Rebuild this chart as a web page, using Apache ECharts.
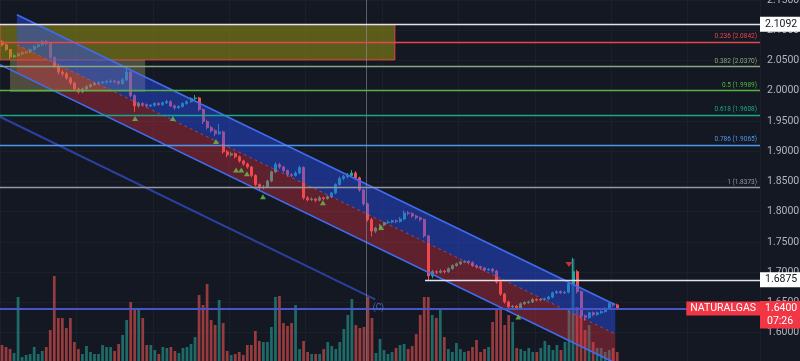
<!DOCTYPE html>
<html><head><meta charset="utf-8">
<script src="https://cdn.jsdelivr.net/npm/echarts@6/dist/echarts.min.js"></script>
<style>html,body{margin:0;padding:0;background:#141823;}#c{width:800px;height:361px;}</style>
</head><body><div id="c"></div>
<script>
// ---- data ----
const SLOT_COUNT = 189;
const slots = Array.from({length: SLOT_COUNT}, (_, i) => String(i));
const opens = [
2.081,2.076,2.068,2.056,2.058,2.061,2.063,2.064,2.068,2.073,
2.076,2.081,2.078,2.055,2.041,2.031,2.028,2.021,2.013,2.003,
1.998,2.003,2.007,2.010,2.012,2.013,2.014,2.015,2.016,2.015,
2.012,2.018,2.031,1.992,1.975,1.979,1.977,1.975,1.976,1.979,
1.977,1.980,1.982,1.975,1.972,1.974,1.979,1.982,1.987,1.988,
1.969,1.949,1.939,1.934,1.929,1.932,1.899,1.894,1.896,1.891,
1.884,1.879,1.874,1.860,1.845,1.840,1.841,1.851,1.866,1.878,
1.874,1.868,1.861,1.860,1.864,1.873,1.823,1.820,1.821,1.819,
1.823,1.822,1.825,1.831,1.845,1.855,1.858,1.860,1.864,1.856,
1.836,1.813,1.787,1.768,1.773,1.778,1.782,1.783,1.785,1.784,
1.788,1.798,1.797,1.793,1.790,1.787,1.760,1.694,1.701,1.700,
1.702,1.701,1.706,1.711,1.714,1.717,1.718,1.716,1.711,1.709,
1.707,1.704,1.705,1.702,1.684,1.664,1.651,1.643,1.644,1.641,
1.648,1.650,1.651,1.655,1.654,1.655,1.656,1.659,1.666,1.668,
1.666,1.667,1.681,1.701,1.668,1.628,1.625,1.633,1.630,1.633,
1.635,1.640,1.648,1.646];
const closes = [
2.076,2.068,2.056,2.058,2.061,2.063,2.064,2.068,2.073,2.076,
2.081,2.078,2.055,2.041,2.031,2.028,2.021,2.013,2.003,1.998,
2.003,2.007,2.010,2.012,2.013,2.014,2.015,2.016,2.015,2.012,
2.018,2.031,1.992,1.975,1.979,1.977,1.975,1.976,1.979,1.977,
1.980,1.982,1.975,1.972,1.974,1.979,1.982,1.987,1.988,1.969,
1.949,1.939,1.934,1.929,1.932,1.899,1.894,1.896,1.891,1.884,
1.879,1.874,1.860,1.845,1.840,1.841,1.851,1.866,1.878,1.874,
1.868,1.861,1.860,1.864,1.873,1.823,1.820,1.821,1.819,1.823,
1.822,1.825,1.831,1.845,1.855,1.858,1.860,1.864,1.856,1.836,
1.813,1.787,1.768,1.773,1.778,1.782,1.783,1.785,1.784,1.788,
1.798,1.797,1.793,1.790,1.787,1.760,1.694,1.701,1.700,1.702,
1.701,1.706,1.711,1.714,1.717,1.718,1.716,1.711,1.709,1.707,
1.704,1.705,1.702,1.684,1.664,1.651,1.643,1.644,1.641,1.648,
1.650,1.651,1.655,1.654,1.655,1.656,1.659,1.666,1.668,1.666,
1.667,1.681,1.701,1.668,1.628,1.625,1.633,1.630,1.633,1.635,
1.640,1.648,1.646,1.640];
const lows = [
2.073,2.066,2.052,2.054,2.056,2.059,2.061,2.062,2.066,2.071,
2.074,2.075,2.052,2.038,2.027,2.024,2.018,2.009,2.000,1.995,
1.996,2.001,2.005,2.008,2.010,2.011,2.012,2.013,2.012,2.010,
2.010,2.016,1.989,1.965,1.972,1.974,1.972,1.973,1.974,1.975,
1.975,1.978,1.973,1.969,1.970,1.972,1.977,1.980,1.984,1.966,
1.945,1.936,1.931,1.925,1.927,1.896,1.890,1.891,1.888,1.881,
1.876,1.871,1.857,1.842,1.836,1.837,1.839,1.849,1.864,1.871,
1.865,1.858,1.857,1.858,1.862,1.820,1.817,1.818,1.816,1.817,
1.819,1.820,1.823,1.829,1.843,1.852,1.855,1.857,1.853,1.833,
1.810,1.784,1.759,1.765,1.771,1.776,1.780,1.781,1.781,1.782,
1.786,1.794,1.790,1.787,1.784,1.757,1.686,1.690,1.697,1.698,
1.698,1.699,1.704,1.709,1.712,1.715,1.713,1.709,1.706,1.704,
1.701,1.702,1.699,1.681,1.661,1.648,1.640,1.640,1.638,1.639,
1.646,1.648,1.649,1.652,1.652,1.653,1.654,1.657,1.664,1.664,
1.664,1.665,1.679,1.665,1.624,1.620,1.623,1.627,1.628,1.631,
1.633,1.638,1.643,1.638];
const highs = [
2.084,2.078,2.069,2.060,2.063,2.065,2.066,2.070,2.075,2.078,
2.084,2.084,2.080,2.057,2.045,2.034,2.031,2.023,2.015,2.005,
2.005,2.009,2.012,2.014,2.016,2.016,2.018,2.019,2.018,2.017,
2.021,2.038,2.033,1.994,1.982,1.981,1.979,1.978,1.981,1.981,
1.982,1.985,1.984,1.977,1.976,1.981,1.984,1.989,1.993,1.990,
1.971,1.952,1.942,1.937,1.945,1.934,1.902,1.899,1.898,1.893,
1.886,1.881,1.876,1.862,1.847,1.844,1.853,1.868,1.882,1.881,
1.876,1.870,1.864,1.867,1.876,1.875,1.826,1.824,1.823,1.826,
1.825,1.827,1.833,1.847,1.858,1.861,1.864,1.869,1.867,1.858,
1.838,1.815,1.790,1.775,1.780,1.784,1.786,1.787,1.787,1.791,
1.802,1.801,1.799,1.795,1.792,1.789,1.762,1.704,1.703,1.705,
1.704,1.708,1.713,1.716,1.719,1.720,1.720,1.718,1.713,1.711,
1.709,1.707,1.707,1.704,1.686,1.666,1.653,1.646,1.646,1.650,
1.652,1.653,1.657,1.657,1.657,1.658,1.661,1.668,1.670,1.670,
1.669,1.684,1.724,1.704,1.670,1.630,1.635,1.635,1.635,1.637,
1.642,1.650,1.650,1.648];
const volumes = [
18,16,14,10,66,6,8,9,16,9,
12,16,33,87,45,45,35,45,21,14,
9,17,11,9,9,18,16,16,12,19,
28,43,61,55,53,45,18,18,13,9,
16,15,16,12,10,15,16,19,26,68,
58,79,43,38,63,40,12,8,9,11,
8,18,18,32,22,21,21,36,66,67,
40,37,40,58,14,22,11,9,9,9,
14,21,17,14,21,34,48,64,38,35,
36,66,45,10,24,13,9,11,15,18,
19,14,17,29,48,66,66,48,45,54,
26,14,11,20,14,11,12,16,23,11,
14,16,41,54,54,38,48,41,15,14,
12,15,11,11,15,22,18,13,18,13,
21,55,104,56,51,33,38,21,15,15,
11,13,15,11];

const priceMin = 1.55, priceMax = 2.15, priceInterval = 0.05;
const volumeAxisMax = 363;

const fibRatios = ['0.236','0.382','0.5','0.618','0.786','1'];
const fibPrices = [2.0842, 2.0370, 1.9989, 1.9608, 1.9065, 1.8373];
const fibColors = ['#e8454f','#88a97c','#55b441','#1aa88c','#4f97ec','#9598a1'];
const topLevel = 2.1092;
const supportLevel = 1.6875, supportStart = 105.2;
const lastPrice = 1.64, symbolName = 'NATURALGAS', countdown = '07:26';

const channelX = [3.7, 152.5];
const channelUpper = [2.1256, 1.6462];
const channelMid = [2.076, 1.598];
const channelLower = [2.030, 1.550];
const lowerExt = [-0.5, 2.043];
const trendX = [-0.5, 92.8];
const trendY = [1.957, 1.655];
const trendLabel = [93.6, 1.6405];

const box1X = [-0.5, 97.7], box1Y = [2.1092, 2.051];
const box2X = [2.0, 35.6], box2Y = [2.051, 1.998];

const signalX = [33.1, 42.5, 53.2, 58.2, 59.5, 60.9, 64.9, 79.8, 94.3, 128.4];
const signalY = [1.954, 1.954, 1.916, 1.869, 1.869, 1.863, 1.825, 1.815, 1.774, 1.626];
const alertX = [141.0], alertY = [1.713];
const cursorX = 90.5;

// ---- chart ----
const upC = '#26a69a', dnC = '#ef5350';
const candleData = opens.map((o, i) => [o, closes[i], lows[i], highs[i]]);
const volData = volumes.map((v, i) => ({
  value: v,
  itemStyle: {color: closes[i] >= opens[i] ? 'rgba(38,166,154,0.58)' : 'rgba(239,83,80,0.6)'}
}));

const labelFont = 10.5;
const fibMarks = fibPrices.map((p, i) => ({
  yAxis: p,
  lineStyle: {color: fibColors[i], width: 1.4, type: 'solid', opacity: 1},
  label: {show: true, position: 'insideEndTop', distance: [3, 2],
    formatter: fibRatios[i] + ' (' + p.toFixed(4) + ')', color: fibColors[i], fontSize: 6.5}
}));

const tagStyle = (txt, bg, fg, extra) => Object.assign({
  show: true, position: 'end', distance: 0, formatter: txt,
  backgroundColor: bg, color: fg, fontSize: labelFont, padding: [2, 5, 2, 5]
}, extra || {});

const chart = echarts.init(document.getElementById('c'), null, {width: 800, height: 361});
chart.setOption({
  backgroundColor: '#141823',
  animation: false,
  textStyle: {fontFamily: 'Roboto, "Noto Sans", sans-serif'},
  grid: {left: 0, right: 40, top: 0, height: 363, outerBoundsMode: 'none', containLabel: false},
  xAxis: [
    {type: 'category', data: slots, boundaryGap: true,
      axisLine: {show: false}, axisTick: {show: false}, axisLabel: {show: false},
      splitLine: {show: true, interval: 18, lineStyle: {color: '#1b1f2a', width: 1}}},
    {type: 'value', min: -0.5, max: SLOT_COUNT - 0.5, show: false}
  ],
  yAxis: [
    {type: 'value', position: 'right', min: priceMin, max: priceMax, interval: priceInterval,
      axisLine: {show: false}, axisTick: {show: false},
      splitLine: {show: true, lineStyle: {color: '#1b1f2a', width: 1}},
      axisLabel: {color: '#b2b5be', fontSize: labelFont, margin: 7, showMinLabel: false,
        formatter: v => v.toFixed(4)}},
    {type: 'value', min: 0, max: volumeAxisMax, show: false}
  ],
  series: [
    {type: 'bar', name: 'volume', xAxisIndex: 0, yAxisIndex: 1, data: volData,
      barWidth: '68%', z: 1, silent: true},
    {type: 'candlestick', name: 'price', xAxisIndex: 0, yAxisIndex: 0, data: candleData,
      barWidth: '62%', z: 2, silent: true,
      itemStyle: {color: upC, color0: dnC, borderColor: upC, borderColor0: dnC, borderWidth: 1}},
    {type: 'custom', name: 'channel', xAxisIndex: 1, yAxisIndex: 0, z: 3, silent: true, clip: true,
      data: [[0, 2]],
      renderItem: (params, api) => {
        const P = (x, y) => api.coord([x, y]);
        const u0 = P(channelX[0], channelUpper[0]), u1 = P(channelX[1], channelUpper[1]);
        const m0 = P(channelX[0], channelMid[0]), m1 = P(channelX[1], channelMid[1]);
        const l0 = P(channelX[0], channelLower[0]), l1 = P(channelX[1], channelLower[1]);
        const le = P(lowerExt[0], lowerExt[1]);
        const t0 = P(trendX[0], trendY[0]), t1 = P(trendX[1], trendY[1]);
        return {type: 'group', children: [
          {type: 'polygon', shape: {points: [u0, u1, m1, m0]}, style: {fill: 'rgba(41,82,255,0.44)'}},
          {type: 'polygon', shape: {points: [m0, m1, l1, l0]}, style: {fill: 'rgba(242,54,69,0.34)'}},
          {type: 'polyline', shape: {points: [m0, m1]}, style: {stroke: 'rgba(235,90,110,0.55)', lineWidth: 1, lineDash: [3, 3], fill: null}},
          {type: 'polyline', shape: {points: [u0, u1]}, style: {stroke: '#3f6cf0', lineWidth: 1.6, fill: null}},
          {type: 'polyline', shape: {points: [le, l1]}, style: {stroke: '#3f6cf0', lineWidth: 1.6, fill: null}},
          {type: 'polyline', shape: {points: [t0, t1]}, style: {stroke: '#2b3f9c', lineWidth: 2, fill: null}}
        ]};
      }},
    {type: 'line', name: 'overlay', xAxisIndex: 1, yAxisIndex: 0, data: [], z: 4, silent: true,
      markArea: {silent: true, z: 3, data: [
        [{coord: [box1X[0], box1Y[0]], itemStyle: {color: 'rgba(160,155,20,0.52)', borderColor: 'rgba(235,70,70,0.9)', borderWidth: 1}},
         {coord: [box1X[1], box1Y[1]]}],
        [{coord: [box2X[0], box2Y[0]], itemStyle: {color: 'rgba(165,155,105,0.40)'}},
         {coord: [box2X[1], box2Y[1]]}]
      ]},
      markLine: {silent: true, symbol: ['none', 'none'], z: 5, emphasis: {disabled: true}, data: [
        {xAxis: cursorX, lineStyle: {color: 'rgba(150,153,165,0.55)', width: 1, type: 'solid'}, label: {show: false}},
        ...fibMarks,
        {yAxis: topLevel, lineStyle: {color: '#e0e3eb', width: 1.3, type: 'solid'},
          label: tagStyle(topLevel.toFixed(4), '#ffffff', '#131722')},
        [{coord: [supportStart, supportLevel], lineStyle: {color: '#e0e3eb', width: 1.3, type: 'solid'},
          label: tagStyle(supportLevel.toFixed(4), '#ffffff', '#131722')},
         {coord: [SLOT_COUNT - 0.5, supportLevel]}],
        {yAxis: lastPrice, lineStyle: {color: '#4b55cc', width: 1.5, type: 'solid'},
          label: tagStyle(countdown, '#f23645', '#ffffff', {verticalAlign: 'top', padding: [7, 7, 2, 7]})},
        {yAxis: lastPrice, lineStyle: {color: '#4b55cc', width: 1.5, type: 'solid'},
          label: tagStyle(lastPrice.toFixed(4), '#f23645', '#ffffff')},
        {yAxis: lastPrice, lineStyle: {color: '#4b55cc', width: 1.5, type: 'solid'},
          label: {show: true, position: 'insideEnd', distance: 0, formatter: symbolName,
            backgroundColor: '#f23645', color: '#ffffff', fontSize: labelFont, padding: [2, 4, 1, 4]}}
      ]}},
    {type: 'scatter', name: 'signals', xAxisIndex: 1, yAxisIndex: 0, z: 6, silent: true,
      symbol: 'triangle', symbolSize: [6, 5], itemStyle: {color: '#6cc04a'},
      data: signalX.map((x, i) => [x, signalY[i]])},
    {type: 'scatter', name: 'alert', xAxisIndex: 1, yAxisIndex: 0, z: 6, silent: true,
      symbol: 'triangle', symbolRotate: 180, symbolSize: [7, 5], itemStyle: {color: '#f23645'},
      data: alertX.map((x, i) => [x, alertY[i]])},
    {type: 'scatter', name: 'wave', xAxisIndex: 1, yAxisIndex: 0, z: 6, silent: true,
      symbolSize: 1, itemStyle: {color: 'rgba(0,0,0,0)'},
      label: {show: true, position: 'inside', formatter: '(C)', color: '#5b7be0', fontSize: 8.5},
      data: [trendLabel]}
  ]
});
</script>
</body></html>
